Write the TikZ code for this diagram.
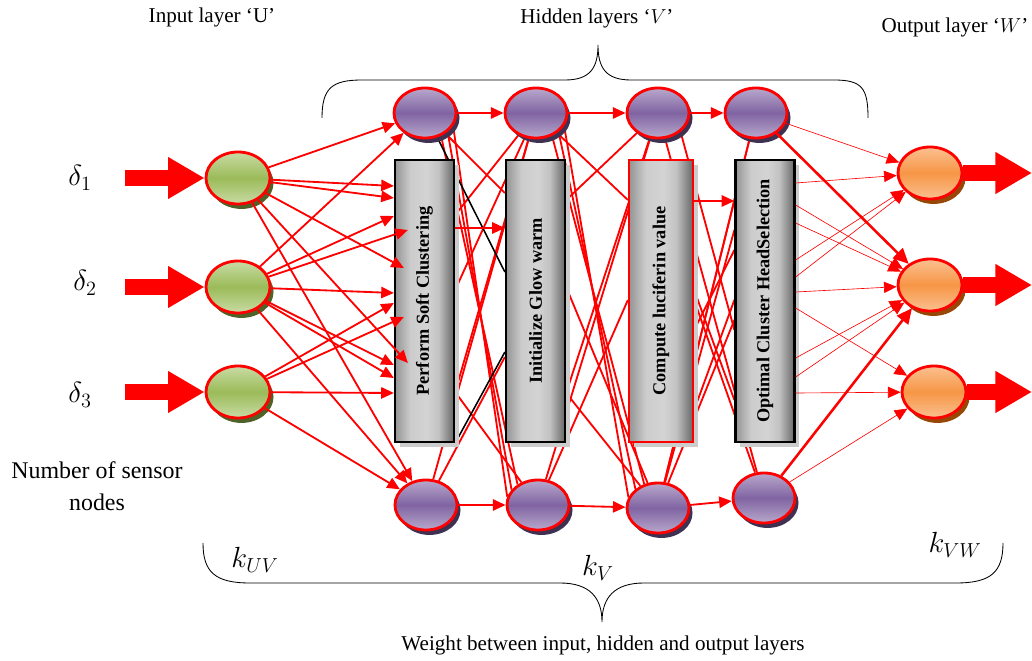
\documentclass[tikz,border=0pt]{standalone}
\usepackage{fontspec}
\setmainfont{Liberation Serif}
\usetikzlibrary{calc,shapes.geometric,shadows,arrows.meta,backgrounds}

\definecolor{inGreen}{HTML}{9BBB59}
\definecolor{inGreenLt}{HTML}{C9DBA5}
\definecolor{inGreenDk}{HTML}{4F6228}
\definecolor{hidPurple}{HTML}{8064A2}
\definecolor{hidPurpleLt}{HTML}{B8A8CC}
\definecolor{hidPurpleDk}{HTML}{3F3151}
\definecolor{outOrange}{HTML}{F79646}
\definecolor{outOrangeLt}{HTML}{FAC090}
\definecolor{outOrangeDk}{HTML}{974806}

\pgfdeclarehorizontalshading{stageshade}{100bp}{color(0bp)=(black!42); color(25bp)=(black!42);
  color(38bp)=(black!20); color(52bp)=(black!17); color(62bp)=(black!24); color(75bp)=(black!60); color(100bp)=(black!60)}

\tikzset{
  neuron/.style = {ellipse,draw=red,line width=2pt,inner sep=0pt,minimum width=1.55cm,minimum height=1.25cm},
  innode/.style = {neuron,minimum width=1.6cm,minimum height=1.3cm,top color=inGreenLt,bottom color=inGreenLt,middle color=inGreen,
     drop shadow={shadow xshift=2.5pt,shadow yshift=-3.5pt,fill=inGreenDk,opacity=1}},
  hidnode/.style = {neuron,top color=hidPurpleLt,bottom color=hidPurpleLt,middle color=hidPurple,
     drop shadow={shadow xshift=2.5pt,shadow yshift=-3.5pt,fill=hidPurpleDk,opacity=1}},
  outnode/.style = {neuron,minimum width=1.6cm,minimum height=1.3cm,top color=outOrangeLt,bottom color=outOrangeLt,middle color=outOrange,
     drop shadow={shadow xshift=2.5pt,shadow yshift=-3.5pt,fill=outOrangeDk,opacity=1}},
  stagebox/.style = {draw=black,line width=1.6pt,inner sep=0pt,minimum width=1.475cm,minimum height=7.05cm,
     shading=stageshade,
     drop shadow={shadow xshift=3.5pt,shadow yshift=-3.5pt,fill=black!20,opacity=1},
     font=\fontsize{13}{15}\selectfont\bfseries},
  %
  edge/.style = {-{Triangle[length=9pt,width=8pt]},line width=1.3pt,red},
  thin edge/.style = {edge,line width=0.45pt},
  thick edge/.style = {edge,line width=1.8pt,-{Triangle[length=11pt,width=10pt]}},
  wire/.style = {red,line width=1.3pt},
  black wire/.style = {black,line width=1.1pt},
  big arrow/.style = {red,line width=12pt,-{Triangle[length=26pt,width=28pt]}},
  brace/.style = {black,line width=0.6pt},
  lbl/.style = {font=\fontsize{15}{18}\selectfont},
  klbl/.style = {font=\fontsize{22}{24}\selectfont},
}

\begin{document}
\begin{tikzpicture}[x=0.025cm,y=-0.025cm]
    \useasboundingbox (0,0) rectangle (1032,661);

    % layers
    \node[innode] at (238,178) (in1) {};
    \node[innode] at (238,287) (in2) {};
    \node[innode] at (238,392) (in3) {};

    \node[stagebox] at (424.5,301) (box1) {\rotatebox{90}{Perform Soft Clustering}};
    \node[stagebox] at (535.5,301) (box2) {\rotatebox{90}{Initialize Glow warm}};
    \node[stagebox,draw=red,minimum width=1.6cm] at (661,301) (box3) {\rotatebox{90}{Compute luciferin value}};
    \node[stagebox] at (765,301) (box4) {\rotatebox{90}{Optimal Cluster HeadSelection}};

    \node[hidnode] at (425,113) (top1) {};
    \node[hidnode] at (536,113) (top2) {};
    \node[hidnode] at (658,113) (top3) {};
    \node[hidnode] at (756,113) (top4) {};
    \node[hidnode] at (426,505) (bot1) {};
    \node[hidnode] at (538,505) (bot2) {};
    \node[hidnode] at (658,508) (bot3) {};
    \node[hidnode] at (764,498) (bot4) {};

    \node[outnode] at (930,173) (out1) {};
    \node[outnode] at (930,285) (out2) {};
    \node[outnode] at (934,392) (out3) {};

    % texts
    \node[lbl] at (212,17) (inlbl) {Input layer ‘U’};
    \node[lbl] at (597,18) (hidlbl) {Hidden layers ‘$V$’};
    \node[lbl] at (955,27) (outlbl) {Output layer ‘$W$’};
    \node[align=center,font=\fontsize{17}{23}\selectfont] at (97,486) (sensors) {Number of sensor\\nodes};
    \node[lbl] at (603,645) (weights) {Weight between input, hidden and output layers};
    \node[klbl] at (80,178) (d1) {$\delta_1$};
    \node[klbl] at (85,283) (d2) {$\delta_2$};
    \node[klbl] at (80,395) (d3) {$\delta_3$};
    \node[klbl] at (255,560) (kuv) {$k_{UV}$};
    \node[klbl] at (598,568) (kv) {$k_{V}$};
    \node[klbl] at (955,545) (kvw) {$k_{VW}$};

    % braces
    \draw[brace] (322,118) .. controls (322,88) and (332,80) .. (362,80) -- (565,80)
        .. controls (590,80) and (598,68) .. (598,45) .. controls (598,68) and (606,80) .. (631,80)
        -- (834,80) .. controls (862,80) and (868,88) .. (868,118);
    \draw[brace] (203,543) .. controls (203,572) and (215,583) .. (250,583) -- (560,583)
        .. controls (590,583) and (602,598) .. (602,622) .. controls (602,598) and (614,583) .. (644,583)
        -- (956,583) .. controls (991,583) and (1003,572) .. (1003,543);

    % inputs and outputs
    \coordinate (s1) at (125,178);
    \coordinate (s2) at (125,287);
    \coordinate (s3) at (125,392);
    \coordinate (e1) at (1032,173);
    \coordinate (e2) at (1032,285);
    \coordinate (e3) at (1032,392);
    \foreach \i in {1,2,3}{
      \draw[big arrow] (s\i) -- (in\i);
      \draw[big arrow] (out\i.east) -- (e\i);
    }

    \begin{scope}[on background layer]
      % layer 1 to layer 2
      \draw[wire] (top1) -- (box2.west |- 0,193);
      \draw[wire] (top1.-25) -- (bot2.165);
      \draw[wire] (top1.-40) -- (bot2.150);
      \draw[wire] (top1.-55) -- (bot2.135);
      \draw[wire] (box1.east |- 0,215) -- (top2);
      \draw[wire] (box1.east |- 0,290) -- (top2);
      \draw[wire] (box1.east |- 0,392) -- (top2);
      \draw[wire] (box1.east |- 0,392) -- (bot2);
      \draw[wire] (bot1) -- (top2);
      \draw[wire] (bot1) -- (box2.west |- 0,357);
      \draw[black wire] (top1) -- (box2.west |- 0,272);
      \draw[black wire] (box1.south east) -- (box2.west |- 0,352);
      % layer 2 to layer 3
      \draw[wire] (top2) -- (box3.west |- 0,200);
      \draw[wire] (top2.-25) -- (bot3.160);
      \draw[wire] (top2.-40) -- (bot3.140);
      \draw[wire] (top2.-55) -- (bot3.120);
      \draw[wire] (box2.east |- 0,200) -- (top3);
      \draw[wire] (box2.east |- 0,393) -- (top3);
      \draw[wire] (box2.east |- 0,287) -- (bot3);
      \draw[wire] (box2.east |- 0,393) -- (bot3);
      \draw[wire] (bot2) -- (top3);
      \draw[wire] (bot2) -- (box3.west |- 0,300);
      % layer 3 to layer 4
      \draw[wire] (top3) -- (bot4);
      \draw[wire] (top3.-40) -- (box4.west |- 0,330);
      \draw[wire] (top4) -- (bot3);
      \draw[wire] (box4.west |- 0,230) -- (bot3);
      \draw[wire] (box4.west |- 0,320) -- (bot3);
      \draw[wire] (box3.east |- 0,290) -- (box4.west |- 0,400);
      \draw[wire] (box3.east |- 0,300) -- (bot4);
      \draw[wire] (box3.east |- 0,330) -- (box4.west |- 0,250);
      \draw[wire] (box3.east |- 0,410) -- (box4.west |- 0,300);
      \draw[wire] (bot3) -- (top4);
    \end{scope}

    % input layer to first stage
    \draw[edge] (in1) -- (top1);
    \foreach \y in {186,198} \draw[edge] (in1) -- (box1.west |- 0,\y);
    \draw[edge] (in1) -- ($(box1.west |- 0,268)+(10,0)$);
    \draw[edge] (in1) -- ($(box1.west |- 0,363)+(14,0)$);
    \draw[edge] (in1) -- (bot1);
    \draw[edge] (in2) -- (top1);
    \foreach \y in {216,293,365,378} \draw[edge] (in2) -- (box1.west |- 0,\y);
    \draw[edge] (in2) -- ($(box1.west |- 0,230)+(14,0)$);
    \draw[edge] (in2) -- (bot1);
    \foreach \y in {303,393} \draw[edge] (in3) -- (box1.west |- 0,\y);
    \draw[edge] (in3) -- ($(box1.west |- 0,317)+(10,0)$);
    \draw[edge] (in3) -- (bot1);

    % along the hidden layers
    \draw[edge] (top1) -- (top2);
    \draw[edge] (top2) -- (top3);
    \draw[edge] (top3) -- (top4);
    \draw[edge] (bot1) -- (bot2);
    \draw[edge] (bot2) -- (bot3);
    \draw[edge] (bot3) -- (bot4);
    \draw[edge] (box1.east |- 0,228) -- (box2.west |- 0,228);
    \draw[edge] (box3.east |- 0,201) -- (box4.west |- 0,201);

    % last stage to output layer
    \draw[thin edge] (top4) -- (out1);
    \draw[thick edge] (top4) -- (out2);
    \foreach \y in {183,260,277} \draw[thin edge] (box4.east |- 0,\y) -- (out1);
    \foreach \y in {205,223,292,358,377} \draw[thin edge] (box4.east |- 0,\y) -- (out2);
    \foreach \y in {308,393} \draw[thin edge] (box4.east |- 0,\y) -- (out3);
    \draw[thick edge] (bot4) -- (out2);
    \draw[thin edge] (bot4) -- (out3);

\end{tikzpicture}
\end{document}
